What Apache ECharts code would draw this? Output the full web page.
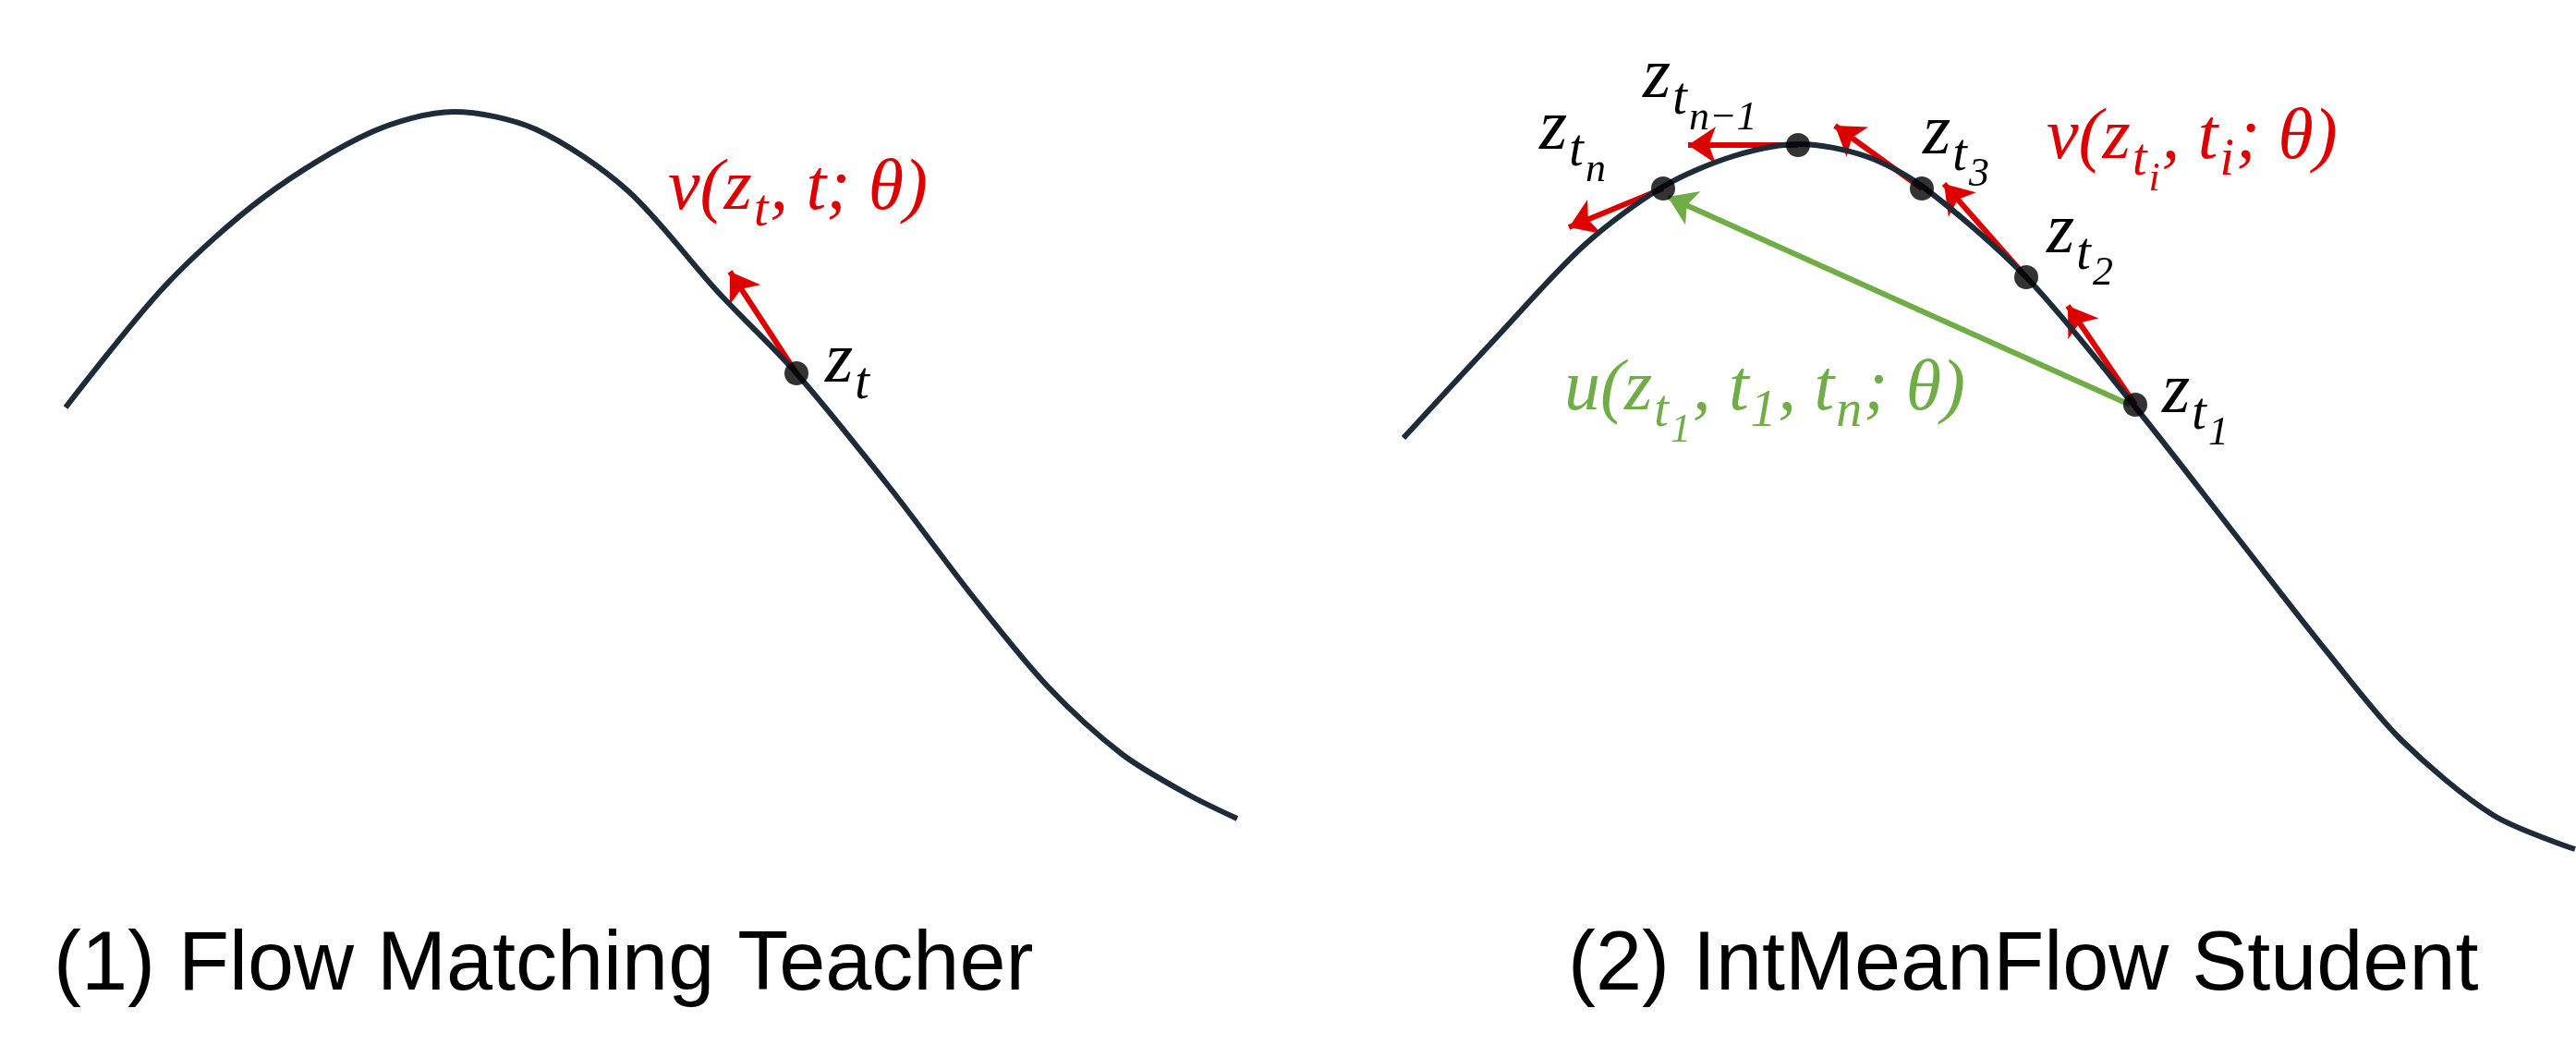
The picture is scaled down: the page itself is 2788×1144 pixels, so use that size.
<!DOCTYPE html>
<html>
<head>
<meta charset="utf-8">
<script src="https://cdn.jsdelivr.net/npm/echarts@6/dist/echarts.min.js"></script>
<style>html,body{margin:0;padding:0;background:#fff}#chart{width:2788px;height:1144px}</style>
</head>
<body>
<div id="chart"></div>
<script>
// curve samples in picture pixel space (x right, y down)
var teacherCurve = [[71,441],[179,309],[286,213],[402,143],[491,121],[580,140],[679,206],[777,316],[862,404],[964,529],[1054,647],[1134,743],[1214,816],[1286,860],[1339,886]];
var studentCurve = [[1519,474],[1617,368],[1715,265],[1800,202],[1876,169],[1948,156],[2019,169],[2081,202],[2193,300],[2309,438],[2421,581],[2519,706],[2599,801],[2698,882],[2787,919]];
var teacherPoints = [[862,404]];
var studentPoints = [[1800,204],[1946,157],[2080,204],[2193,300],[2311,438]];
var redArrows = [
  [[862,404],[790,294]],
  [[2311,438],[2238,331]],
  [[2193,300],[2104,199]],
  [[2080,204],[1986,136]],
  [[1946,157],[1827,157]],
  [[1800,204],[1698,246]]
];
var greenArrows = [[[2305,438],[1805,213]]];

var RED = '#dd0000', GREEN = '#70ad47', INK = '#1e2b38';
var mathFont = 'italic {s}px "Liberation Serif", "DejaVu Serif", serif';
var measureCtx = document.createElement('canvas').getContext('2d');

// parts: [text, level]; level 0 base, 1 subscript, 2 sub-subscript
function mathLabel(x, y, parts, color) {
  var sizes = [78, 56, 44], drops = [0, 24, 44];
  var out = [], cx = x;
  parts.forEach(function (p) {
    var s = sizes[p[1]];
    var font = mathFont.replace('{s}', s);
    measureCtx.font = font;
    out.push({
      type: 'text', x: cx, y: y + drops[p[1]],
      style: { text: p[0], font: font, fill: color, textVerticalAlign: 'middle' }
    });
    cx += measureCtx.measureText(p[0]).width + 2;
  });
  return out;
}

var graphics = [].concat(
  mathLabel(723, 205, [['v(z',0],['t',1],[', t; θ)',0]], RED),
  mathLabel(893, 392, [['z',0],['t',1]], '#000'),
  mathLabel(1666, 140, [['z',0],['t',1],['n',2]], '#000'),
  mathLabel(1778, 84, [['z',0],['t',1],['n−1',2]], '#000'),
  mathLabel(2081, 145, [['z',0],['t',1],['3',2]], '#000'),
  mathLabel(2215, 150, [['v(z',0],['t',1],['i',2],[', t',0],['i',1],['; θ)',0]], RED),
  mathLabel(2215, 252, [['z',0],['t',1],['2',2]], '#000'),
  mathLabel(2340, 425, [['z',0],['t',1],['1',2]], '#000'),
  mathLabel(1693, 422, [['u(z',0],['t',1],['1',2],[', t',0],['1',1],[', t',0],['n',1],['; θ)',0]], GREEN)
);
graphics.push(
  { type: 'text', x: 58, y: 1046, style: { text: '(1) Flow Matching Teacher', font: '90px "Liberation Sans", Arial, sans-serif', fill: '#000', textVerticalAlign: 'middle' } },
  { type: 'text', x: 1697, y: 1046, style: { text: '(2) IntMeanFlow Student', font: '90px "Liberation Sans", Arial, sans-serif', fill: '#000', textVerticalAlign: 'middle' } }
);

function arrowSeries(list, color) {
  return {
    type: 'lines', coordinateSystem: 'cartesian2d', z: 3,
    symbol: ['none', 'arrow'], symbolSize: 30,
    lineStyle: { color: color, width: 6, opacity: 1 },
    data: list.map(function (a) { return { coords: a }; })
  };
}

var myChart = echarts.init(document.getElementById('chart'));
var option = {
  animation: false,
  grid: { left: 0, right: 0, top: 0, bottom: 0 },
  xAxis: { type: 'value', min: 0, max: 2788, show: false },
  yAxis: { type: 'value', min: 0, max: 1144, inverse: true, show: false },
  series: [
    { type: 'line', data: teacherCurve, smooth: 0.3, symbol: 'none', lineStyle: { color: INK, width: 6 } },
    { type: 'line', data: studentCurve, smooth: 0.3, symbol: 'none', lineStyle: { color: INK, width: 6 } },
    arrowSeries(greenArrows, GREEN),
    arrowSeries(redArrows, RED),
    { type: 'scatter', z: 4, data: teacherPoints.concat(studentPoints), symbolSize: 26, itemStyle: { color: '#000' } }
  ],
  graphic: graphics
};
myChart.setOption(option);
</script>
</body>
</html>
